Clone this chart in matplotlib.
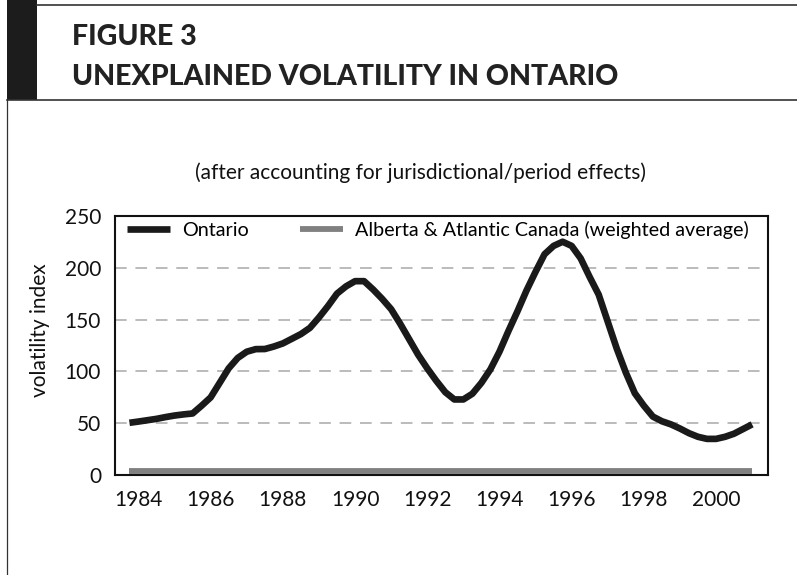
"""
Figure 3: unexplained volatility in Ontario.
"""
import numpy as np
from matplotlib import pyplot as plt
from matplotlib.patches import Rectangle
from matplotlib.lines import Line2D

# quarterly observations, 1983Q4 .. 2001Q1
quarters = np.arange(1983.75, 2001.01, 0.25)
ontario = [50.5, 51.7, 53, 54.3, 56, 57.5, 58.6, 59.5, 67, 75,
           89, 103, 113, 119, 121.5, 121.6, 124, 127, 131.5, 136,
           142, 152, 163, 175, 182, 187, 187, 179, 170, 160,
           146, 131, 116, 103, 91, 80, 73, 73, 78.5, 89,
           102, 119, 139, 158, 178, 196, 213, 221, 225, 221,
           209, 191, 174, 148, 122, 99, 79, 67, 56.5, 52,
           49, 45, 40.5, 37, 35, 35, 37, 40, 44.5, 49]
alberta_atl = [4.0] * len(quarters)

year_ticks = [1984, 1986, 1988, 1990, 1992, 1994, 1996, 1998, 2000]
y_ticks = [0, 50, 100, 150, 200, 250]

W, H = 797, 575
fig = plt.figure(figsize=(W / 100, H / 100), dpi=100)
plt.rcParams['font.family'] = ['Lato', 'DejaVu Sans']

# frame / title block drawn in pixel coords
deco = fig.add_axes([0, 0, 1, 1])
deco.set_xlim(0, W)
deco.set_ylim(H, 0)
deco.axis('off')
deco.add_patch(Rectangle((7, 0), 30, 99.5, color='#1c1c1c', lw=0))
deco.add_line(Line2D([37, W], [5, 5], color='#333333', lw=1.2))
deco.add_line(Line2D([7, W], [99.5, 99.5], color='#333333', lw=1.2))
deco.add_line(Line2D([7.3, 7.3], [99.5, H], color='#333333', lw=0.9))
deco.text(72, 45, 'FIGURE 3', fontsize=20.5, fontweight='black',
          color='#222222', va='baseline')
deco.text(72, 85, 'UNEXPLAINED VOLATILITY IN ONTARIO', fontsize=20.5,
          fontweight='black', color='#222222', va='baseline')
deco.text(421, 173, '(after accounting for jurisdictional/period effects)',
          fontsize=15, ha='center', va='center', color='#111111')
deco.text(40, 330, 'volatility index', fontsize=15, rotation=90,
          ha='center', va='center', color='#111111')

ax = fig.add_axes([115 / W, 1 - 475.2 / H, 653 / W, 259.4 / H])
ax.plot(quarters, alberta_atl, color='#808080', lw=4.2,
        solid_capstyle='butt', label='Alberta & Atlantic Canada (weighted average)')
ax.plot(quarters, ontario, color='#1a1a1a', lw=4.8,
        solid_capstyle='butt', label='Ontario')

ax.set_xlim(1983.35, 2001.44)
ax.set_ylim(0, 250)
ax.set_xticks(year_ticks)
ax.set_xticklabels([str(y) for y in year_ticks])
ax.set_yticks(y_ticks)
ax.tick_params(length=0, labelsize=15, colors='#111111')
ax.tick_params(axis='y', pad=10)
ax.tick_params(axis='x', pad=11)
for y in y_ticks[1:-1]:
    ax.axhline(y, color='#bbbbbb', lw=1.4, dashes=(6, 4.5), zorder=0)
for s in ax.spines.values():
    s.set_linewidth(1.5)
    s.set_color('#111111')

h, l = ax.get_legend_handles_labels()
ax.legend(h[::-1], l[::-1], ncol=2, frameon=False, fontsize=14.2,
          loc='upper left', bbox_to_anchor=(0.0, 1.025),
          handlelength=2.2, handletextpad=0.6, columnspacing=2.6,
          borderaxespad=0.2)

# plt.show()
plt.savefig('out.png', dpi=100)
